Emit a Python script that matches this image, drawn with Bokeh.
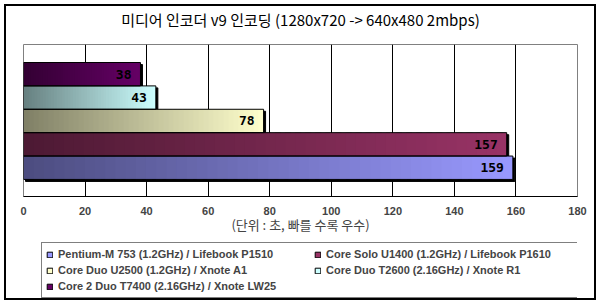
import numpy as np
from bokeh.plotting import figure
from bokeh.layouts import column
from bokeh.models import (Range1d, FixedTicker, ColumnDataSource, Legend, LegendItem,
                          InlineStyleSheet, LinearAxis)
from bokeh.core.properties import value
from bokeh.embed import file_html
from bokeh.resources import INLINE

title_text = "미디어 인코더 v9 인코딩 (1280x720 -> 640x480 2mbps)"
axis_label_text = "(단위 : 초, 빠를 수록 우수)"
series = [
    "Pentium-M 753 (1.2GHz) / Lifebook P1510",
    "Core Solo U1400 (1.2GHz) / Lifebook P1610",
    "Core Duo U2500 (1.2GHz) / Xnote A1",
    "Core Duo T2600 (2.16GHz) / Xnote R1",
    "Core 2 Duo T7400 (2.16GHz) / Xnote LW25",
]
values = [159, 157, 78, 43, 38]
colors = ["#9999FF", "#993366", "#FFFFCC", "#CCFFFF", "#660066"]
x_ticks = [0, 20, 40, 60, 80, 100, 120, 140, 160, 180]

PX_X = 554 / 180.0   # px per unit x
PX_Y = 23.4          # px per unit y


def hex_to_rgb(h):
    h = h.lstrip("#")
    return [int(h[i:i + 2], 16) for i in (0, 2, 4)]


def rgb_to_hex(c):
    return "#%02x%02x%02x" % tuple(int(round(max(0, min(255, v)))) for v in c)


# ---------------- chart ----------------
p = figure(width=600, height=238, output_backend="svg", toolbar_location=None,
           x_range=Range1d(0, 180), y_range=Range1d(-1.23, 5.27), y_axis_location=None,
           min_border_left=23, min_border_right=23, min_border_top=44, min_border_bottom=42)
p.background_fill_color = "white"
p.border_fill_color = "white"
p.outline_line_color = "#808080"
p.outline_line_width = 1
p.ygrid.visible = False
p.xgrid.ticker = FixedTicker(ticks=x_ticks)
p.xgrid.grid_line_color = "black"
p.xgrid.grid_line_width = 1

ax = p.below[0]
ax.ticker = FixedTicker(ticks=x_ticks)
ax.axis_line_color = "black"
ax.major_tick_line_color = None
ax.minor_tick_line_color = None
ax.major_label_text_font = "Liberation Sans"
ax.major_label_text_font_style = "bold"
ax.major_label_text_font_size = "11px"
ax.major_label_standoff = 4
ax.axis_label = axis_label_text
ax.axis_label_text_font = "Noto Sans CJK KR"
ax.axis_label_text_font_style = "normal"
ax.axis_label_text_font_size = "13px"
ax.axis_label_standoff = -3

# title as the label of a bare top axis
top = LinearAxis(ticker=FixedTicker(ticks=[]), axis_line_color=None,
                 major_tick_line_color=None, minor_tick_line_color=None,
                 major_label_standoff=0, major_tick_out=0, major_tick_in=0,
                 axis_label=title_text, axis_label_standoff=15,
                 axis_label_text_font="Noto Sans CJK KR", axis_label_text_font_size="15px",
                 axis_label_text_font_style="normal", axis_label_text_color="black")
p.add_layout(top, "above")

# bars
N = 48
idx = list(range(len(values)))
dx = 2 / PX_X
dy = 2 / PX_Y
p.hbar(y=[i - dy for i in idx], left=[dx] * len(idx), right=[v + dx for v in values],
       height=1.0, fill_color="black", line_color="black")

sy, sl, sr, sc = [], [], [], []
for i, v, c in zip(idx, values, colors):
    base = np.array(hex_to_rgb(c), dtype=float)
    for k in range(N):
        t = (k + 0.5) / N
        col = base * (0.5 + 0.5 * t)
        sy.append(i)
        sl.append(v * k / N)
        sr.append(min(v, v * (k + 1.6) / N))
        sc.append(rgb_to_hex(col))
src = ColumnDataSource(dict(y=sy, left=sl, right=sr, color=sc))
p.hbar(y="y", left="left", right="right", height=1.0, source=src,
       fill_color="color", line_color=None)
p.hbar(y=idx, left=0, right=values, height=1.0, fill_color=None, line_color="black", line_width=1)

p.text(x=values, y=idx, text=[str(v) for v in values], text_align="right", text_baseline="middle",
       x_offset=-9, text_font=value("DejaVu Sans Mono"), text_font_style="bold",
       text_font_size="13px", text_color="black")

# ---------------- legend strip ----------------
q = figure(width=600, height=65, output_backend="svg", toolbar_location=None,
           x_range=Range1d(0, 1), y_range=Range1d(0, 1),
           x_axis_location=None, y_axis_location=None,
           min_border=0, min_border_left=0, min_border_right=0,
           min_border_top=0, min_border_bottom=0)
q.outline_line_color = None
q.grid.visible = False
q.background_fill_color = "white"
q.border_fill_color = "white"

items = []
for i, (s, c, v) in enumerate(zip(series, colors, values)):
    r = q.hbar(y=[i], right=[v], height=1.0, fill_color=c, line_color="black",
               line_width=1, visible=False)
    items.append(LegendItem(label=s, renderers=[r]))
legend = Legend(items=items, location=(18, 5), orientation="horizontal", ncols=2,
                label_text_font="Liberation Sans", label_text_font_style="bold",
                label_text_font_size="11px", label_height=14, label_width=254,
                label_standoff=5, glyph_width=7, glyph_height=7, spacing=2, padding=4,
                margin=0, border_line_color="black", border_line_width=1,
                background_fill_color="white", background_fill_alpha=1,
                inactive_fill_alpha=0)
q.add_layout(legend, "center")

layout = column(p, q, spacing=0)
layout.stylesheets = [InlineStyleSheet(css=(
    ":host { position: relative; }"
    ":host::after { content: ''; position: absolute; left: 4px; top: 4px; width: 592px;"
    " height: 296px; border: 2px solid black; box-sizing: border-box;"
    " pointer-events: none; z-index: 100; }"))]

open("out.html", "w").write(file_html(layout, INLINE))
